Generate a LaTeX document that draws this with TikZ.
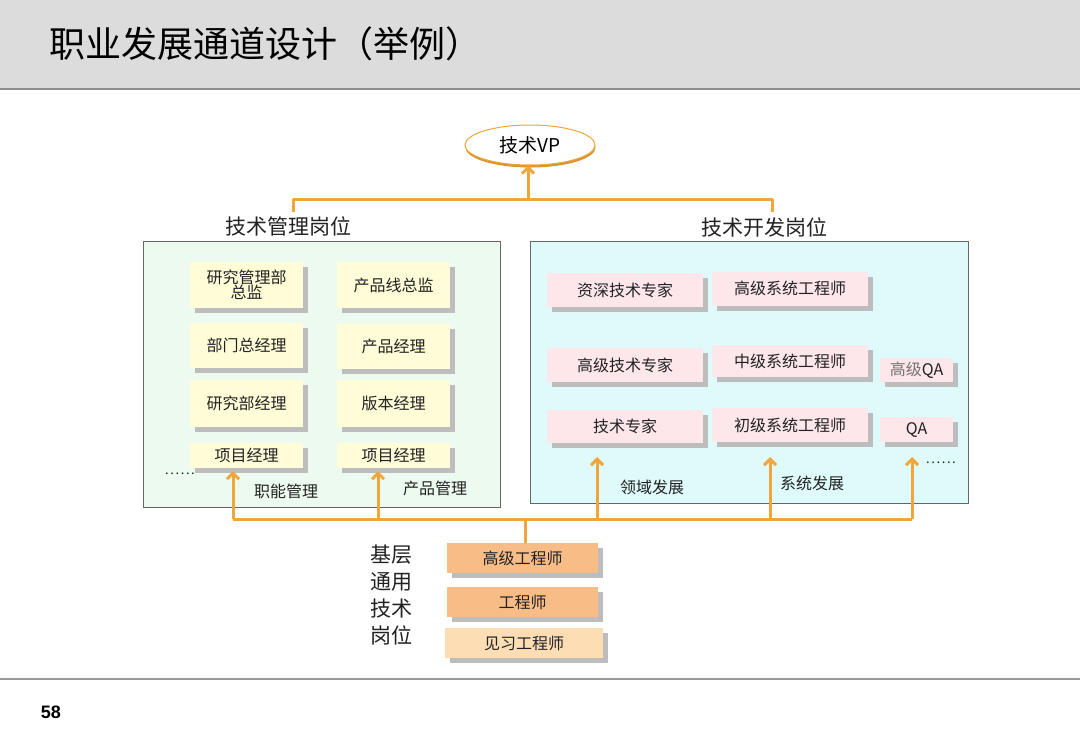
\documentclass[tikz,border=0pt]{standalone}
\usepackage{fontspec}
\setmainfont{Noto Sans CJK SC}
\newfontfamily\arialfont{Liberation Sans}
\usetikzlibrary{arrows.meta,shadows,shapes.geometric}
\definecolor{hdr}{HTML}{DCDCDC}
\definecolor{hdrline}{HTML}{8E8E8E}
\definecolor{gold}{HTML}{F0A63A}
\definecolor{golddark}{HTML}{D9962E}
\definecolor{mint}{HTML}{EDFAF0}
\definecolor{cyanbg}{HTML}{DFFAFA}
\definecolor{yel}{HTML}{FFFCD8}
\definecolor{pinkbox}{HTML}{FDE7EB}
\definecolor{orng}{HTML}{F8BC86}
\definecolor{orngl}{HTML}{FCDDB4}
\definecolor{shad}{HTML}{BDBDBD}
\definecolor{txt}{HTML}{222222}
\newcommand{\sixdots}{.\kern1.6pt.\kern1.6pt.\kern1.6pt.\kern1.6pt.\kern1.6pt.}
\tikzset{
  boxshadow/.style={drop shadow={shadow xshift=5pt,shadow yshift=-5pt,fill=shad,opacity=1}},
  ybox/.style={boxshadow,fill=yel,inner sep=0pt,align=center,text=txt,font=\fontsize{16}{16}\selectfont},
  pbox/.style={boxshadow,fill=pinkbox,inner sep=0pt,align=center,text=txt,font=\fontsize{16}{16}\selectfont},
  obox/.style={boxshadow,fill=orng,inner sep=0pt,align=center,text=txt,minimum width=151pt,minimum height=30pt,font=\fontsize{16}{16}\selectfont},
  grp/.style={draw=black!60,line width=0.8pt},
  conn/.style={draw=gold,line width=3pt},
  arr/.style={conn,-{Straight Barb[length=6pt,width=12pt]}},
  lbl/.style={text=txt,font=\fontsize{16}{16}\selectfont},
  glbl/.style={text=txt,font=\fontsize{21}{21}\selectfont},
}
\begin{document}
\begin{tikzpicture}[x=1pt,y=-1pt]
\useasboundingbox (0,0) rectangle (1080,747);
\fill[white] (0,0) rectangle (1080,747);
% header
\fill[hdr] (0,0) rectangle (1080,88);
\draw[hdrline,line width=2pt] (0,89) -- (1080,89);
\node[anchor=west,text=black,font=\fontsize{36}{36}\selectfont] (title) at (46,44) {职业发展通道设计（举例）};
% footer
\draw[black!40,line width=1.5pt] (0,679) -- (1080,679);
\node[font=\arialfont\bfseries\fontsize{18}{18}\selectfont] (pagenum) at (51,712) {58};
% VP
\fill[golddark] (530.5,147.5) ellipse (65pt and 20pt);
\node[ellipse,draw=gold,line width=1pt,fill=white,minimum width=130pt,minimum height=40pt,inner sep=0pt,font=\fontsize{19}{19}\selectfont] (vp) at (530,145) {技术VP};
% group boxes
\node[grp,fill=mint,minimum width=357pt,minimum height=266pt,inner sep=0pt] (lgrp) at (321.5,374) {};
\node[grp,fill=cyanbg,minimum width=438pt,minimum height=262pt,inner sep=0pt] (rgrp) at (749,372) {};
\node[glbl] (ltitle) at (288,226) {技术管理岗位};
\node[glbl] (rtitle) at (764,227) {技术开发岗位};
% top connector
\coordinate (tl) at (293,212);
\coordinate (tr) at (772,212);
\coordinate (tlc) at (293,199);
\coordinate (trc) at (772,199);
\coordinate (tm) at (528,199);
\draw[conn,line join=round] (tl) -- (tlc) -- (trc) -- (tr);
\draw[arr] (tm) -- (tm |- vp.south);
% left inner boxes
\node[ybox,minimum width=113pt,minimum height=46pt,font=\fontsize{16}{15}\selectfont] (l11) at (246.5,285) {研究管理部\\总监};
\node[ybox,minimum width=113pt,minimum height=45pt] (l21) at (246.5,345.5) {部门总经理};
\node[ybox,minimum width=113pt,minimum height=47pt] (l31) at (246.5,403.5) {研究部经理};
\node[ybox,minimum width=113pt,minimum height=25pt] (l41) at (246.5,455.5) {项目经理};
\node[ybox,minimum width=113pt,minimum height=46pt] (l12) at (393.5,285) {产品线总监};
\node[ybox,minimum width=113pt,minimum height=45pt] (l22) at (393.5,346) {产品经理};
\node[ybox,minimum width=113pt,minimum height=47pt] (l32) at (393.5,403.5) {版本经理};
\node[ybox,minimum width=113pt,minimum height=25pt] (l42) at (393.5,455.5) {项目经理};
\node[lbl,font=\fontsize{13}{13}\selectfont] (ldots) at (180,474) {\sixdots};
\node[lbl] (lm1) at (286,491) {职能管理};
\node[lbl] (lm2) at (435,488) {产品管理};
% right inner boxes
\node[pbox,minimum width=156pt,minimum height=34pt] (r11) at (625,290) {资深技术专家};
\node[pbox,minimum width=156pt,minimum height=34pt] (r21) at (625,365) {高级技术专家};
\node[pbox,minimum width=156pt,minimum height=33pt] (r31) at (625,426.5) {技术专家};
\node[pbox,minimum width=156pt,minimum height=34pt] (r12) at (790,288.5) {高级系统工程师};
\node[pbox,minimum width=156pt,minimum height=32pt] (r22) at (790,361) {中级系统工程师};
\node[pbox,minimum width=156pt,minimum height=34pt] (r32) at (790,425) {初级系统工程师};
\node[pbox,minimum width=73pt,minimum height=24pt] (r23) at (916.5,370) {\textcolor{black!55}{高级}QA};
\node[pbox,minimum width=73pt,minimum height=25pt] (r33) at (916.5,429.5) {QA};
\node[lbl,font=\fontsize{13}{13}\selectfont] (rdots) at (941,463) {\sixdots};
\node[lbl] (rm1) at (652,487) {领域发展};
\node[lbl] (rm2) at (812,483) {系统发展};
% bottom base
\node[glbl,align=center,font=\fontsize{21}{27}\selectfont] (base) at (391,595) {基层\\通用\\技术\\岗位};
\node[obox] (b1) at (522.5,558) {高级工程师};
\node[obox] (b2) at (522.5,602) {工程师};
\node[obox,fill=orngl,minimum width=158pt] (b3) at (524,643) {见习工程师};
% bottom connectors
\coordinate (hub) at (525,519);
\coordinate (a1b) at (233,519);
\coordinate (a2b) at (378,519);
\coordinate (a3b) at (597,519);
\coordinate (a4b) at (770,519);
\coordinate (a5b) at (912,519);
\coordinate (a1t) at (233,471);
\coordinate (a2t) at (378,471);
\coordinate (a3t) at (597,457);
\coordinate (a4t) at (770,457);
\coordinate (a5t) at (912,457);
\draw[conn] (hub |- b1.north) -- (hub);
\draw[conn,line join=round] (a1b) -- (a5b);
\draw[arr] (a1b) -- (a1t);
\draw[arr] (a2b) -- (a2t);
\draw[arr] (a3b) -- (a3t);
\draw[arr] (a4b) -- (a4t);
\draw[arr] (a5b) -- (a5t);
\end{tikzpicture}
\end{document}
